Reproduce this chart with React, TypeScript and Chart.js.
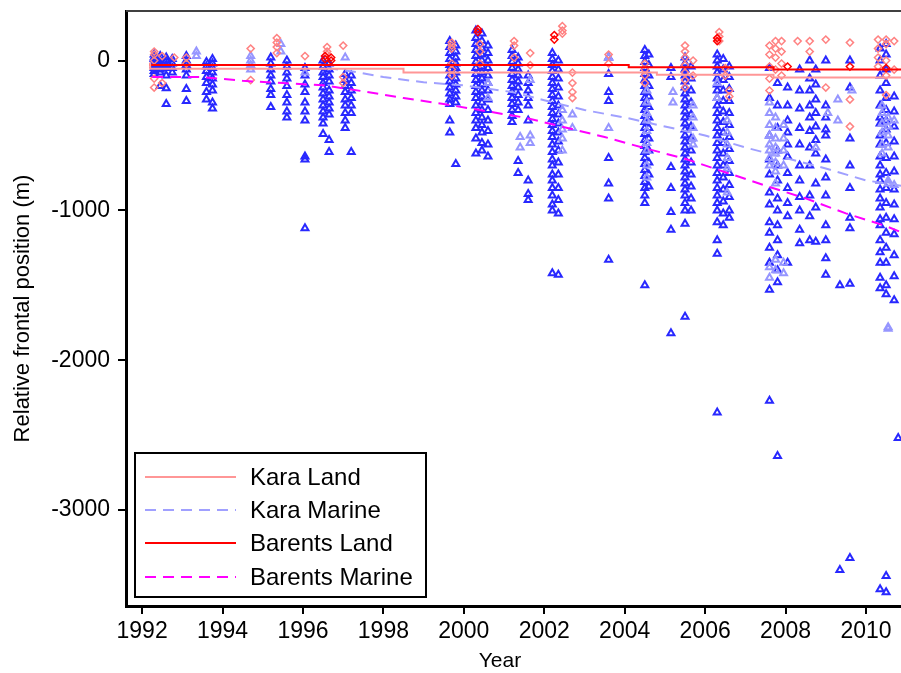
import React, { useEffect, useRef } from "react";
import { Chart, registerables } from "chart.js";

Chart.register(...registerables);

const FONT = "'Liberation Sans', Arial, sans-serif";

// Tick labels
const xTickValues = [1992, 1994, 1996, 1998, 2000, 2002, 2004, 2006, 2008, 2010];
const yTickValues = [0, -1000, -2000, -3000];

// Trend lines
const karaLandYears = [1992.2, 1998.5, 2004.8, 2007.7, 2010.05, 2010.87];
const karaLandValues = [-12, -55, -80, -95, -113, -113];
const barentsLandYears = [1992.2, 2004.1, 2007.7, 2010.05, 2010.87];
const barentsLandValues = [-20, -30, -45, -60, -60];
const karaMarineYears = [1996.6, 1997.4, 1998, 1999, 2000, 2001.2, 2002, 2003, 2004, 2005, 2006, 2007, 2008, 2009, 2010, 2010.87];
const karaMarineValues = [-50, -80, -110, -145, -165, -210, -265, -330, -380, -440, -500, -580, -650, -720, -800, -835];
const barentsMarineYears = [1992.25, 1993.5, 1994.5, 1995.5, 1996.5, 1997.5, 1998.5, 1999.5, 2000.5, 2001.5, 2002.5, 2003.5, 2004.5, 2005.5, 2006.5, 2007.5, 2008.5, 2009.5, 2010.5, 2010.87];
const barentsMarineValues = [-110, -110, -135, -150, -165, -205, -250, -290, -335, -380, -445, -510, -585, -655, -745, -835, -920, -1020, -1105, -1145];

// Observations: [year, frontal positions]
const barentsMarinePoints: [number, number[]][] = [
  [1992.3, [40, 20, 10, -10, -30, -50, -70, -90]],
  [1992.45, [30, 0, -20, -40, -60, -80, -170]],
  [1992.6, [20, 0, -30, -50, -100, -185, -290]],
  [1992.75, [10, -20, -50, -80]],
  [1993.1, [30, 0, -30, -60, -100, -190, -270]],
  [1993.6, [-10, -40, -70, -110, -150, -210, -260]],
  [1993.75, [10, -20, -50, -80, -120, -160, -200, -280, -320]],
  [1995.2, [20, -20, -60, -100, -140, -190, -230, -310]],
  [1995.6, [0, -40, -80, -120, -170, -230, -280, -340, -380]],
  [1996.05, [-50, -100, -160, -210, -280, -340, -400, -640, -660, -1120]],
  [1996.5, [0, -40, -80, -110, -150, -180, -220, -260, -300, -340, -380, -420, -490]],
  [1996.65, [-20, -60, -100, -140, -200, -240, -280, -320, -360, -530, -610]],
  [1997.05, [-90, -130, -170, -210, -260, -300, -350, -400, -450]],
  [1997.2, [-100, -150, -200, -250, -300, -350, -610]],
  [1999.65, [130, 90, 50, 10, -30, -60, -100, -140, -180, -220, -260, -290, -400, -480]],
  [1999.8, [100, 60, 20, -20, -50, -80, -120, -160, -200, -240, -280, -690]],
  [2000.3, [200, 150, 110, 70, 30, -10, -50, -90, -130, -170, -210, -250, -300, -350, -400, -450, -520, -620]],
  [2000.45, [180, 130, 80, 40, 0, -40, -80, -120, -160, -200, -240, -280, -330, -380, -430, -480, -550, -600]],
  [2000.6, [100, 50, 0, -50, -100, -150, -200, -260, -330, -400, -470, -560, -640]],
  [2001.2, [70, 30, -10, -50, -90, -130, -170, -210, -250, -290, -330, -370, -410]],
  [2001.35, [20, -20, -60, -100, -140, -180, -230, -280, -330, -670, -750]],
  [2001.6, [-100, -150, -200, -250, -300, -400, -800, -890, -930]],
  [2002.2, [50, 10, -30, -70, -110, -150, -190, -230, -270, -310, -350, -390, -430, -470, -510, -560, -610, -660, -700, -760, -800, -850, -900, -960, -1000, -1420]],
  [2002.35, [0, -60, -120, -180, -240, -300, -360, -420, -480, -540, -600, -680, -760, -850, -930, -1020, -1430]],
  [2003.6, [20, -90, -210, -270, -650, -820, -920, -1330]],
  [2004.5, [70, 30, -10, -50, -90, -130, -170, -210, -250, -290, -330, -370, -410, -450, -490, -530, -570, -610, -650, -690, -730, -770, -810, -850, -900, -950, -1500]],
  [2004.6, [40, -30, -100, -170, -240, -310, -380, -450, -520, -600, -680, -760, -840]],
  [2005.15, [-50, -110, -710, -850, -1010, -1130, -1820]],
  [2005.5, [20, -20, -60, -100, -140, -180, -220, -260, -300, -340, -380, -420, -460, -500, -540, -580, -620, -660, -700, -740, -780, -820, -860, -900, -950, -1000, -1090, -1710]],
  [2005.65, [-40, -120, -200, -280, -360, -440, -520, -600, -680, -760, -840, -920, -1000]],
  [2006.3, [40, 0, -40, -80, -120, -160, -200, -250, -300, -350, -400, -450, -500, -550, -600, -650, -700, -750, -800, -850, -900, -950, -1000, -1080, -1200, -1290, -2350]],
  [2006.45, [10, -60, -130, -200, -270, -340, -410, -480, -550, -620, -700, -780, -860, -940, -1020, -1100]],
  [2006.6, [-40, -110, -190, -270, -350, -430, -510, -590, -670, -750, -830, -910, -1000, -1050]],
  [2007.6, [-50, -250, -500, -660, -760, -880, -960, -1080, -1150, -1250, -1350, -1530, -2270]],
  [2007.8, [-150, -300, -450, -600, -700, -800, -920, -1000, -1100, -1200, -1300, -1400, -1480, -2640]],
  [2008.05, [-180, -300, -400, -480, -560, -640, -750, -850, -950, -1040, -1350]],
  [2008.35, [-60, -200, -320, -450, -560, -700, -800, -910, -1000, -1130, -1220]],
  [2008.6, [0, -120, -200, -300, -380, -470, -580, -700, -900, -1040, -1200]],
  [2008.75, [-60, -160, -260, -350, -440, -530, -620, -820, -980, -1210]],
  [2009.0, [0, -300, -380, -460, -500, -660, -780, -900, -1100, -1200, -1320, -1430]],
  [2009.35, [-1500, -3400]],
  [2009.6, [0, -180, -520, -700, -850, -1050, -1120, -1490, -3320]],
  [2010.35, [80, 0, -100, -200, -300, -380, -420, -500, -560, -640, -700, -760, -800, -860, -920, -980, -1060, -1100, -1200, -1280, -1350, -1450, -1520, -3530]],
  [2010.5, [110, 40, -60, -150, -250, -330, -400, -460, -550, -650, -750, -850, -950, -1050, -1150, -1250, -1350, -1500, -1560, -3550, -3440]],
  [2010.7, [-240, -340, -440, -540, -640, -740, -860, -960, -1060, -1160, -1300, -1440, -1600]],
  [2010.8, [-2520]],
];

const karaMarinePoints: [number, number[]][] = [
  [1993.35, [60, 30]],
  [1994.7, [30, 0, -30, -60]],
  [1995.45, [110, 60]],
  [1996.05, [-80]],
  [1997.05, [20]],
  [2000.6, [-250, -150]],
  [2001.4, [-580, -510]],
  [2001.65, [-500, -550, -130]],
  [2002.45, [-330, -400, -460, -520, -600]],
  [2002.7, [-360, -450]],
  [2003.6, [20, -450]],
  [2004.55, [-200, -280, -350, -400, -470, -550, -600, -700, -780]],
  [2005.2, [-210, -280]],
  [2005.7, [-300, -380, -450, -520, -560]],
  [2006.3, [-150, -250]],
  [2006.55, [-400, -480, -560, -650, -720, -880]],
  [2007.6, [-280, -350, -430, -500, -560, -600, -650, -700, -1380, -1450]],
  [2007.75, [-380, -450, -520, -580, -620, -680, -740, -820, -1330, -1400]],
  [2007.95, [-430, -520, -600, -700, -1350, -1420]],
  [2008.75, [-580]],
  [2009.05, [-350]],
  [2009.3, [-260, -400]],
  [2009.65, [-200]],
  [2010.4, [-300, -350, -420, -480, -560, -620]],
  [2010.55, [-380, -440, -500, -580, -800, -820, -1780, -1790]],
  [2010.7, [-400, -830]],
];

const barentsLandPoints: [number, number[]][] = [
  [1996.55, [30, 10]],
  [1996.7, [0, 20]],
  [2000.35, [210, 190]],
  [2002.25, [170, 140]],
  [2006.3, [150, 130]],
  [2008.05, [-40]],
  [2009.6, [-40]],
  [2010.5, [-50]],
];

const karaLandPoints: [number, number[]][] = [
  [1992.3, [60, 40, 0, -120, -180]],
  [1992.5, [30, -150]],
  [1992.8, [20]],
  [1993.1, [20, -20]],
  [1994.7, [80, -130]],
  [1995.35, [150, 120, 90, 50]],
  [1996.05, [30]],
  [1996.6, [90, 60, 40]],
  [1997.0, [100, -110, -150]],
  [1999.7, [120, 100, 80, -20, -60, -100]],
  [2000.4, [110, 60, -20]],
  [2001.25, [130, 100, 20]],
  [2001.65, [50, -30]],
  [2002.45, [230, 200, 180]],
  [2002.7, [-80, -150, -210, -250]],
  [2003.6, [40, -20]],
  [2004.5, [-20, -60, -100, -150]],
  [2005.5, [100, 60, 20, -30, -80, -130, -180]],
  [2005.7, [0, -100]],
  [2006.35, [190, 160, 130]],
  [2006.5, [-50, -100]],
  [2006.6, [-200, -240]],
  [2007.6, [100, 40, -40, -120, -200]],
  [2007.75, [130, 80, 20, -60]],
  [2007.9, [130, 60, -20, -100]],
  [2008.3, [130]],
  [2008.6, [130, 60]],
  [2009.0, [140, -180]],
  [2009.6, [120, -260, -440]],
  [2010.3, [140, 80, 20, -40]],
  [2010.5, [140, 110, 0, -100, -230]],
  [2010.7, [130, -60]],
];

const legendLabels = ["Kara Land", "Kara Marine", "Barents Land", "Barents Marine"];

const flatten = (cols: [number, number[]][]) =>
  cols.flatMap(([x, ys]) => ys.map((y) => ({ x, y })));
const toXY = (xs: number[], ys: number[]) => xs.map((x, i) => ({ x, y: ys[i] }));

const COLORS = {
  karaLand: "rgb(255,150,150)",
  karaMarine: "rgb(160,160,255)",
  barentsLand: "rgb(255,0,0)",
  barentsMarine: "rgb(255,0,255)",
  blueTri: "rgb(40,40,255)",
  lightBlueTri: "rgb(150,150,255)",
  redDia: "rgb(255,0,0)",
  lightRedDia: "rgb(255,130,130)",
};

const overlayPlugin = {
  id: "overlay",
  afterDraw(chart: any) {
    const { ctx, chartArea } = chart;
    ctx.save();
    // top frame line
    ctx.strokeStyle = "#404040";
    ctx.lineWidth = 2;
    ctx.beginPath();
    ctx.moveTo(chartArea.left, chartArea.top);
    ctx.lineTo(chart.width, chartArea.top);
    ctx.stroke();

    // x title
    ctx.fillStyle = "#000";
    ctx.font = `21px ${FONT}`;
    ctx.textAlign = "center";
    ctx.textBaseline = "middle";
    ctx.fillText("Year", 500, 661);

    // legend
    const lx = 135, ly = 453, lw = 291, lh = 144;
    ctx.fillStyle = "#fff";
    ctx.fillRect(lx, ly, lw, lh);
    ctx.strokeStyle = "#000";
    ctx.lineWidth = 2;
    ctx.strokeRect(lx, ly, lw, lh);
    const items = [
      { color: COLORS.karaLand, dash: [] as number[] },
      { color: COLORS.karaMarine, dash: [11, 7] },
      { color: COLORS.barentsLand, dash: [] as number[] },
      { color: COLORS.barentsMarine, dash: [11, 7] },
    ];
    const rowY = [477, 510, 543, 577];
    items.forEach((it, i) => {
      ctx.strokeStyle = it.color;
      ctx.lineWidth = 2;
      ctx.setLineDash(it.dash);
      ctx.beginPath();
      ctx.moveTo(145, rowY[i]);
      ctx.lineTo(236, rowY[i]);
      ctx.stroke();
      ctx.setLineDash([]);
      ctx.fillStyle = "#000";
      ctx.font = `24px ${FONT}`;
      ctx.textAlign = "left";
      ctx.textBaseline = "middle";
      ctx.fillText(legendLabels[i], 250, rowY[i] + 1);
    });
    ctx.restore();
  },
};

export default function App() {
  const canvasRef = useRef<HTMLCanvasElement | null>(null);

  useEffect(() => {
    const canvas = canvasRef.current;
    if (!canvas) return;
    const triangle = (color: string, order: number, data: any[]) => ({
      type: "scatter" as const,
      data,
      pointStyle: "triangle",
      pointRadius: 4,
      pointBorderWidth: 2,
      pointBackgroundColor: "rgba(255,255,255,0)",
      pointBorderColor: color,
      showLine: false,
      order,
    });
    const diamond = (color: string, order: number, data: any[]) => ({
      type: "scatter" as const,
      data,
      pointStyle: "rectRot",
      pointRadius: 3.6,
      pointBorderWidth: 1.5,
      pointBackgroundColor: "rgba(255,255,255,0)",
      pointBorderColor: color,
      showLine: false,
      order,
    });
    const line = (color: string, dash: number[], data: any[], stepped: any) => ({
      type: "line" as const,
      data,
      borderColor: color,
      borderWidth: 2,
      borderDash: dash,
      pointRadius: 0,
      fill: false,
      tension: 0,
      stepped,
      order: 0,
    });

    const chart = new Chart(canvas, {
      type: "scatter",
      data: {
        datasets: [
          line(COLORS.karaLand, [], toXY(karaLandYears, karaLandValues), "after"),
          line(COLORS.barentsLand, [], toXY(barentsLandYears, barentsLandValues), "after"),
          line(COLORS.karaMarine, [11, 7], toXY(karaMarineYears, karaMarineValues), false),
          line(COLORS.barentsMarine, [11, 7], toXY(barentsMarineYears, barentsMarineValues), false),
          diamond(COLORS.redDia, 1, flatten(barentsLandPoints)),
          diamond(COLORS.lightRedDia, 2, flatten(karaLandPoints)),
          triangle(COLORS.lightBlueTri, 3, flatten(karaMarinePoints)),
          triangle(COLORS.blueTri, 4, flatten(barentsMarinePoints)),
        ] as any,
      },
      options: {
        responsive: false,
        animation: false,
        layout: { padding: { top: 11, right: 0, left: 0, bottom: 0 } },
        plugins: {
          legend: { display: false },
          tooltip: { enabled: false },
        },
        scales: {
          x: {
            type: "linear",
            min: 1991.6,
            max: 2010.87,
            afterBuildTicks: (s: any) => {
              s.ticks = xTickValues.map((v) => ({ value: v }));
            },
            afterFit: (s: any) => {
              s.height = 67;
              s.paddingLeft = 0;
              s.paddingRight = 0;
            },
            grid: { drawOnChartArea: false, drawTicks: true, tickLength: 8, color: "#000", lineWidth: 2 },
            border: { display: true, color: "#000", width: 3 },
            ticks: {
              color: "#000",
              font: { size: 23, family: FONT },
              padding: 4,
              maxRotation: 0,
              autoSkip: false,
              callback: (v: any) => String(v),
            },
          },
          y: {
            type: "linear",
            min: -3641,
            max: 331,
            afterBuildTicks: (s: any) => {
              s.ticks = yTickValues.map((v) => ({ value: v }));
            },
            afterFit: (s: any) => {
              s.width = 126;
              s.paddingTop = 0;
              s.paddingBottom = 0;
            },
            grid: { drawOnChartArea: false, drawTicks: true, tickLength: 8, color: "#000", lineWidth: 2 },
            border: { display: true, color: "#000", width: 3 },
            ticks: {
              color: "#000",
              font: { size: 23, family: FONT },
              padding: 8,
              autoSkip: false,
              callback: (v: any) => String(v),
            },
            title: {
              display: true,
              text: "Relative frontal position (m)",
              color: "#000",
              font: { size: 22, family: FONT },
              padding: { top: 10, bottom: 0 },
            },
          },
        },
      },
      plugins: [overlayPlugin],
    });
    return () => chart.destroy();
  }, []);

  return (
    <div style={{ position: "absolute", left: 0, top: 0, width: 901, height: 673, overflow: "hidden", background: "#fff" }}>
      <canvas ref={canvasRef} width={907} height={673} style={{ display: "block" }} />
    </div>
  );
}
